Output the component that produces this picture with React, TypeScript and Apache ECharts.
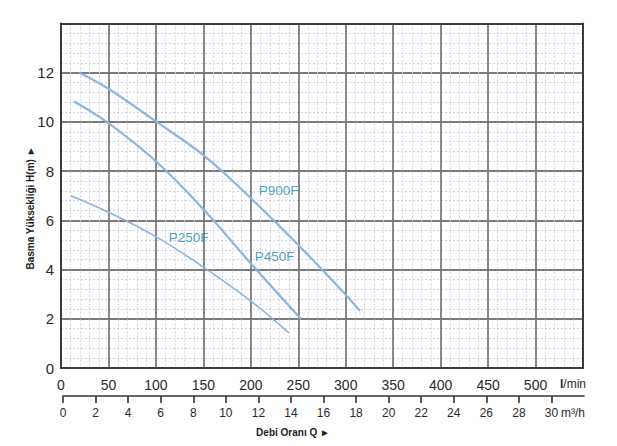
import React, { useEffect, useRef } from "react";
import * as echarts from "echarts";

// Primary flow axis (l/min) and head axis (m)
const flowMin = 0;
const flowMax = 550;
const flowStep = 50;
const headMin = 0;
const headMax = 14;
const headStep = 2;

// Secondary flow axis (m3/h)
const m3hTicks = [0, 2, 4, 6, 8, 10, 12, 14, 16, 18, 20, 22, 24, 26, 28, 30];
const m3hMax = 32;

// Pump curves: flow (l/min) and head (m)
const p900Flow = [19.3, 50, 100, 150, 200, 250, 300, 315];
const p900Head = [12.0, 11.35, 10.02, 8.65, 6.9, 5.0, 2.98, 2.32];

const p450Flow = [13.7, 50, 100, 150, 200, 253];
const p450Head = [10.83, 9.95, 8.4, 6.45, 4.25, 1.99];

const p250Flow = [10.5, 50, 100, 150, 200, 240];
const p250Head = [7.0, 6.33, 5.34, 4.1, 2.72, 1.43];

const curveNames = ["P900F", "P450F", "P250F"];
const curveLabelAnchors: [number, number][] = [
  [207.8, 7.2],
  [203.6, 4.55],
  [112.9, 5.3],
];

const FONT = "'Liberation Sans', Arial, Helvetica, sans-serif";
const CURVE_COLOR = "#8ab6de";
const LABEL_COLOR = "#1c87ae";

const zip = (a: number[], b: number[]) => a.map((v, i) => [v, b[i]]);

export default function App() {
  const ref = useRef<HTMLDivElement>(null);

  useEffect(() => {
    if (!ref.current) return;
    const chart = echarts.init(ref.current, null, { renderer: "svg" });

    const minorSplit = {
      show: true,
      lineStyle: { color: "#d2d2e6", width: 1, type: [2, 2] as any },
    };
    const majorSplit = {
      show: true,
      lineStyle: { color: "#7b7b7b", width: 1.8 },
    };
    const borderLine = {
      show: true,
      lineStyle: { color: "#3c3c3c", width: 2 },
    };

    chart.setOption({
      animation: false,
      textStyle: { fontFamily: FONT },
      grid: [
        { left: 61, right: 34, top: 23.5, bottom: 78, containLabel: false },
        { left: 63, right: 33, top: 395, height: 1, containLabel: false },
      ],
      xAxis: [
        {
          type: "value",
          gridIndex: 0,
          min: flowMin,
          max: flowMax,
          interval: flowStep,
          axisLine: { ...borderLine, onZero: false },
          axisTick: { show: false },
          axisLabel: {
            color: "#2a2a2a",
            fontSize: 14,
            margin: 10,
            formatter: (v: number) => (v === flowMax ? "" : String(v)),
          },
          splitLine: majorSplit,
          minorTick: { show: false, splitNumber: 5 },
          minorSplitLine: minorSplit,
          z: 3,
        },
        {
          type: "value",
          gridIndex: 0,
          position: "top",
          min: flowMin,
          max: flowMax,
          interval: flowStep,
          axisLine: { ...borderLine, onZero: false },
          axisTick: { show: false },
          axisLabel: { show: false },
          splitLine: { show: false },
          z: 5,
        },
        {
          type: "value",
          gridIndex: 1,
          position: "bottom",
          min: 0,
          max: m3hMax,
          interval: 2,
          axisLine: { show: true, onZero: false, lineStyle: { color: "#333", width: 1.6 } },
          axisTick: {
            show: true,
            length: 7,
            inside: false,
            customValues: m3hTicks,
            lineStyle: { color: "#333", width: 1.6 },
          },
          axisLabel: {
            color: "#2a2a2a",
            fontSize: 12,
            margin: 11,
            customValues: m3hTicks,
          },
          splitLine: { show: false },
        },
      ],
      yAxis: [
        {
          type: "value",
          gridIndex: 0,
          min: headMin,
          max: headMax,
          interval: headStep,
          axisLine: { ...borderLine, onZero: false },
          axisTick: { show: false },
          axisLabel: {
            color: "#2a2a2a",
            fontSize: 15,
            margin: 7,
            formatter: (v: number) => (v === headMax ? "" : String(v)),
          },
          splitLine: majorSplit,
          minorTick: { show: false, splitNumber: 5 },
          minorSplitLine: minorSplit,
          z: 3,
        },
        {
          type: "value",
          gridIndex: 0,
          position: "right",
          min: headMin,
          max: headMax,
          interval: headStep,
          axisLine: { ...borderLine, onZero: false },
          axisTick: { show: false },
          axisLabel: { show: false },
          splitLine: { show: false },
          z: 5,
        },
        {
          type: "value",
          gridIndex: 1,
          show: false,
          min: 0,
          max: 1,
        },
      ],
      series: [
        {
          type: "line",
          name: curveNames[0],
          xAxisIndex: 0,
          yAxisIndex: 0,
          data: zip(p900Flow, p900Head),
          smooth: 0.4,
          symbol: "none",
          lineStyle: { color: CURVE_COLOR, width: 2.2 },
          z: 6,
        },
        {
          type: "line",
          name: curveNames[1],
          xAxisIndex: 0,
          yAxisIndex: 0,
          data: zip(p450Flow, p450Head),
          smooth: 0.4,
          symbol: "none",
          lineStyle: { color: CURVE_COLOR, width: 2.2 },
          z: 6,
        },
        {
          type: "line",
          name: curveNames[2],
          xAxisIndex: 0,
          yAxisIndex: 0,
          data: zip(p250Flow, p250Head),
          smooth: 0.4,
          symbol: "none",
          lineStyle: { color: CURVE_COLOR, width: 1.6 },
          z: 6,
        },
        {
          type: "scatter",
          xAxisIndex: 0,
          yAxisIndex: 0,
          symbol: "circle",
          symbolSize: 1,
          itemStyle: { color: "rgba(0,0,0,0)" },
          silent: true,
          z: 7,
          data: curveNames.map((n, i) => ({ name: n, value: curveLabelAnchors[i] })),
          label: {
            show: true,
            formatter: "{b}",
            position: "right",
            distance: 0,
            color: LABEL_COLOR,
            fontSize: 13.5,
            fontFamily: FONT,
            align: "left",
            verticalAlign: "middle",
          },
        },
      ],
      graphic: [
        {
          type: "text",
          x: 30,
          y: 208,
          rotation: Math.PI / 2,
          style: {
            text: "Basma Yüksekliği H(m) ►",
            font: `bold 10px ${FONT}`,
            fill: "#222",
            align: "center",
            verticalAlign: "middle",
          },
        },
        {
          type: "text",
          x: 293,
          y: 432,
          style: {
            text: "Debi Oranı Q ►",
            font: `bold 10px ${FONT}`,
            fill: "#222",
            align: "center",
            verticalAlign: "middle",
          },
        },
        {
          type: "text",
          x: 560,
          y: 384,
          style: {
            text: "{b|l}/min",
            font: `12px ${FONT}`,
            fill: "#2a2a2a",
            align: "left",
            verticalAlign: "middle",
            rich: { b: { fontWeight: "bold", fontSize: 12, fontFamily: FONT } },
          },
        },
        {
          type: "text",
          x: 561,
          y: 413,
          style: {
            text: "m³/h",
            font: `12px ${FONT}`,
            fill: "#2a2a2a",
            align: "left",
            verticalAlign: "middle",
          },
        },
      ],
    });

    return () => chart.dispose();
  }, []);

  return (
    <div
      ref={ref}
      style={{ position: "fixed", left: 0, top: 0, width: 617, height: 446, background: "#fff" }}
    />
  );
}
